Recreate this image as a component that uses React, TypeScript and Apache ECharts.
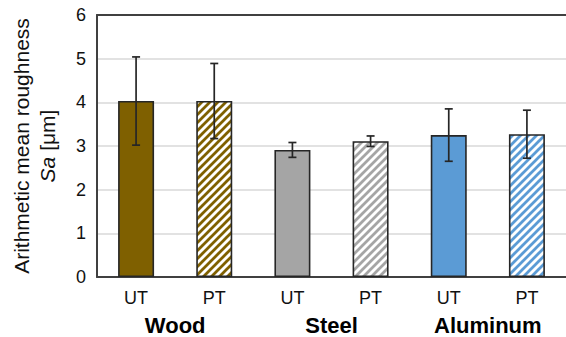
import React, { useEffect, useRef } from "react";
import * as echarts from "echarts";

const categories = ["UT", "PT", "UT", "PT", "UT", "PT"];
const groups = ["Wood", "Steel", "Aluminum"];
const means = [4.03, 4.03, 2.91, 3.11, 3.25, 3.27];
const errors = [1.01, 0.86, 0.17, 0.12, 0.6, 0.55];
const yTicks = [0, 1, 2, 3, 4, 5, 6];

const baseColors = ["#7F6000", "#7F6000", "#A5A5A5", "#A5A5A5", "#5B9BD5", "#5B9BD5"];
const hatched = [false, true, false, true, false, true];

function hatch(color: string) {
  const s = 8;
  const c = document.createElement("canvas");
  c.width = s;
  c.height = s;
  const ctx = c.getContext("2d")!;
  ctx.fillStyle = "#ffffff";
  ctx.fillRect(0, 0, s, s);
  ctx.strokeStyle = color;
  ctx.lineWidth = 2.8;
  ctx.beginPath();
  ctx.moveTo(-1, s + 1);
  ctx.lineTo(s + 1, -1);
  ctx.moveTo(-2, 2);
  ctx.lineTo(2, -2);
  ctx.moveTo(s - 2, s + 2);
  ctx.lineTo(s + 2, s - 2);
  ctx.stroke();
  return c;
}

export default function App() {
  const ref = useRef<HTMLDivElement>(null);
  useEffect(() => {
    if (!ref.current) return;
    const chart = echarts.init(ref.current, null, { renderer: "svg" });
    const font = "'Liberation Sans', Arial, sans-serif";
    const barData = means.map((v, i) => ({
      value: v,
      itemStyle: {
        color: hatched[i]
          ? { image: hatch(baseColors[i]), repeat: "repeat" }
          : baseColors[i],
        borderColor: "#262626",
        borderWidth: 1.6,
      },
    }));
    const errData = means.map((v, i) => [i, v - errors[i], v + errors[i]]);
    chart.setOption({
      animation: false,
      textStyle: { fontFamily: font },
      grid: { left: 92, top: 15, right: 0, bottom: 60, containLabel: false },
      xAxis: [
        {
          type: "category",
          data: categories,
          position: "bottom",
          axisLine: { show: true, lineStyle: { color: "#404040", width: 2 } },
          axisTick: { show: false },
          axisLabel: { color: "#111", fontSize: 18, margin: 12, fontFamily: font },
        },
        {
          type: "category",
          data: categories,
          position: "top",
          axisLine: { show: true, onZero: false, lineStyle: { color: "#404040", width: 2 } },
          axisTick: { show: false },
          axisLabel: { show: false },
        },
        {
          type: "category",
          data: groups,
          position: "bottom",
          axisLine: { show: false },
          axisTick: { show: false },
          axisLabel: { color: "#000", fontSize: 22, fontWeight: "bold", margin: 37, fontFamily: font },
        },
      ],
      yAxis: {
        type: "value",
        min: yTicks[0],
        max: yTicks[yTicks.length - 1],
        interval: 1,
        axisLine: { show: true, lineStyle: { color: "#404040", width: 2 } },
        axisTick: { show: false },
        splitLine: { show: true, lineStyle: { color: "#D9D9D9", width: 1.5 } },
        axisLabel: { color: "#111", fontSize: 18, margin: 11, fontFamily: font },
        name: "Arithmetic mean roughness\n{i|Sa} [μm]",
        nameLocation: "middle",
        nameRotate: 90,
        nameGap: 37,
        nameTextStyle: {
          color: "#111",
          fontSize: 21,
          lineHeight: 26,
          align: "center",
          fontFamily: font,
          rich: {
            i: { fontStyle: "italic", fontSize: 21, color: "#111", fontFamily: font, lineHeight: 26 },
          },
        },
      },
      series: [
        {
          type: "bar",
          xAxisIndex: 0,
          data: barData,
          barWidth: 36,
        },
        {
          type: "custom",
          xAxisIndex: 0,
          data: errData,
          z: 10,
          renderItem: (params: any, api: any) => {
            const x = api.value(0);
            const lo = api.coord([x, api.value(1)]);
            const hi = api.coord([x, api.value(2)]);
            const hw = 4;
            const style = { stroke: "#262626", lineWidth: 1.7, fill: "none" };
            return {
              type: "group",
              children: [
                { type: "line", shape: { x1: lo[0], y1: lo[1], x2: hi[0], y2: hi[1] }, style },
                { type: "line", shape: { x1: lo[0] - hw, y1: lo[1], x2: lo[0] + hw, y2: lo[1] }, style },
                { type: "line", shape: { x1: hi[0] - hw, y1: hi[1], x2: hi[0] + hw, y2: hi[1] }, style },
              ],
            };
          },
        },
      ],
    });
    return () => chart.dispose();
  }, []);
  return (
    <div
      ref={ref}
      style={{ position: "absolute", left: 0, top: 0, width: 566, height: 337 }}
    />
  );
}
